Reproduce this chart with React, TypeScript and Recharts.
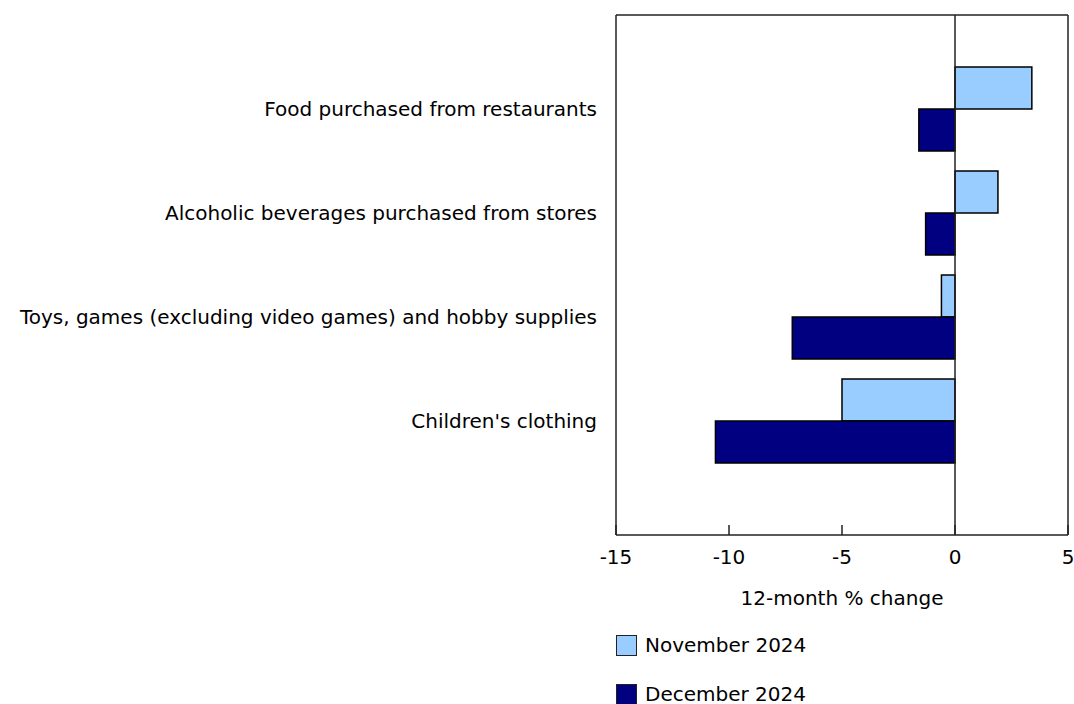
import React from 'react';
import { BarChart, Bar, XAxis, YAxis, ReferenceLine, Legend } from 'recharts';

const categories = [
  'Food purchased from restaurants',
  'Alcoholic beverages purchased from stores',
  'Toys, games (excluding video games) and hobby supplies',
  "Children's clothing",
];
const november2024 = [3.4, 1.9, -0.6, -5.0];
const december2024 = [-1.6, -1.3, -7.2, -10.6];
const xTicks = [-15, -10, -5, 0, 5];

const seriesNames = ['November 2024', 'December 2024'];
const seriesColors = ['#99ccff', '#000080'];

const data = categories.map((name, i) => ({
  name,
  nov: november2024[i],
  dec: december2024[i],
}));

const FONT = 'Verdana, "DejaVu Sans", sans-serif';

// legend drawn from the series arrays so the order stays Nov, Dec
function LegendBox() {
  return (
    <div style={{ fontFamily: FONT, fontSize: 20, color: '#000' }}>
      {seriesNames.map((name, i) => (
        <div key={`legend-${i}`} style={{ display: 'flex', alignItems: 'center', height: 21, marginBottom: i === 0 ? 28 : 0 }}>
          <span
            style={{
              display: 'inline-block',
              boxSizing: 'border-box',
              width: 21,
              height: 21,
              background: seriesColors[i],
              border: '1.5px solid #222',
              marginRight: 8,
            }}
          />
          <span style={{ lineHeight: '21px' }}>{name}</span>
        </div>
      ))}
    </div>
  );
}

export default function App() {
  return (
    <div style={{ position: 'absolute', left: 0, top: 0 }}>
      <BarChart
        width={1074}
        height={704}
        data={data}
        layout="vertical"
        margin={{ top: 14, right: 5, bottom: 139, left: 0 }}
        barCategoryGap={10}
        barGap={0}
        style={{ fontFamily: FONT }}
      >
        <XAxis
          type="number"
          domain={[-15, 5]}
          ticks={xTicks}
          allowDataOverflow
          height={30}
          axisLine={{ stroke: '#222', strokeWidth: 1.5 }}
          tickLine={{ stroke: '#222', strokeWidth: 1.5 }}
          tickSize={-10}
          tickMargin={25}
          tick={{ fill: '#000', fontSize: 20 }}
          label={{ value: '12-month % change', position: 'bottom', offset: 26, fill: '#000', fontSize: 20 }}
        />
        <XAxis
          xAxisId="top"
          orientation="top"
          type="number"
          domain={[-15, 5]}
          height={1}
          tick={false}
          tickLine={false}
          axisLine={{ stroke: '#222', strokeWidth: 1.5 }}
        />
        <YAxis
          type="category"
          dataKey="name"
          width={616}
          padding={{ top: 42, bottom: 62 }}
          axisLine={{ stroke: '#222', strokeWidth: 1.5 }}
          tickLine={false}
          tickSize={0}
          tickMargin={19}
          interval={0}
          tick={{ fill: '#000', fontSize: 20 }}
        />
        <YAxis
          yAxisId="right"
          orientation="right"
          type="category"
          dataKey="name"
          width={1}
          tick={false}
          tickLine={false}
          axisLine={{ stroke: '#222', strokeWidth: 1.5 }}
        />
        <ReferenceLine x={0} stroke="#222" strokeWidth={1.5} />
        <Bar dataKey="nov" name={seriesNames[0]} fill={seriesColors[0]} stroke="#000" strokeWidth={1.5} isAnimationActive={false} />
        <Bar dataKey="dec" name={seriesNames[1]} fill={seriesColors[1]} stroke="#000" strokeWidth={1.5} isAnimationActive={false} />
        <Legend
          layout="vertical"
          align="center"
          verticalAlign="middle"
          wrapperStyle={{ left: 616, top: 635, width: 300 }}
          content={<LegendBox />}
        />
      </BarChart>
    </div>
  );
}
